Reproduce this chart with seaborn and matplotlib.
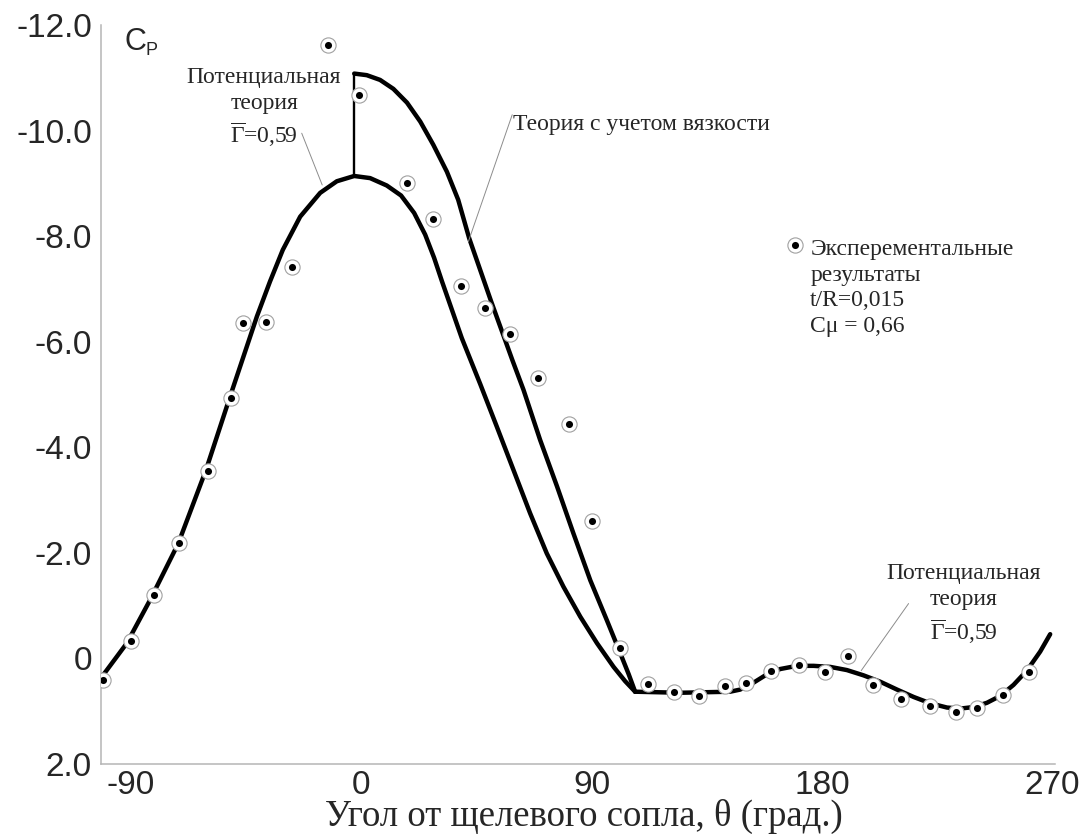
"""
    Pressure distribution Cp(theta) around a circulation-controlled cylinder:
    experiment vs. potential theory and theory with viscosity.
"""
import matplotlib
matplotlib.use("Agg")
import matplotlib.pyplot as plt
import seaborn as sns

# experimental points: angle from slot nozzle (deg) and Cp
exp_theta = [-101, -90, -81, -71, -60, -51, -46, -37, -27, -13, -1, 18, 28, 39, 48.5, 58,
             69, 81, 90, 101, 112, 122, 132, 142, 150.5, 160, 171, 181, 190, 200, 211, 222,
             232.5, 240.5, 250.5, 261]
exp_cp = [0.41, -0.33, -1.20, -2.19, -3.56, -4.94, -6.35, -6.38, -7.42, -11.63, -10.67, -9.00,
          -8.32, -7.05, -6.64, -6.15, -5.31, -4.44, -2.61, -0.20, 0.48, 0.64, 0.71, 0.53,
          0.46, 0.24, 0.12, 0.26, -0.05, 0.50, 0.77, 0.90, 1.02, 0.93, 0.69, 0.25]

# potential theory (Gamma = 0.59), up to the junction point
pot_theta = [-101.3, -91.5, -82.4, -71.4, -60.6, -51.2, -40.7, -35.6, -30.6, -23.8, -16.0,
             -9.5, -2.7, 3.5, 10.0, 15.6, 20.7, 25.0, 28.5, 31.6, 35.2, 39.3, 46.5, 53.0,
             59.5, 66.0, 72.5, 79.0, 85.6, 92.1, 98.6, 103.1, 107.0]
pot_cp = [0.35, -0.29, -1.11, -2.18, -3.57, -4.96, -6.48, -7.14, -7.74, -8.37, -8.82,
          -9.04, -9.14, -9.10, -8.96, -8.77, -8.44, -8.03, -7.59, -7.14, -6.64, -6.07, -5.20,
          -4.39, -3.57, -2.75, -1.99, -1.36, -0.79, -0.29, 0.16, 0.43, 0.63]

# theory with viscosity, from the jump at the peak down to the junction point
visc_theta = [-2.7, 2.2, 7.4, 12.6, 17.9, 23.1, 28.2, 33.5, 37.9, 42.2, 46.5, 50.8, 55.5,
              59.0, 63.4, 69.9, 76.5, 82.9, 89.5, 96.0, 101.2, 104.5, 107.0]
visc_cp = [-11.08, -11.05, -10.96, -10.79, -10.53, -10.17, -9.73, -9.22, -8.69, -7.96, -7.36,
           -6.76, -6.13, -5.66, -5.09, -4.14, -3.26, -2.37, -1.48, -0.72, -0.10, 0.30, 0.63]

# common part after the junction
tail_theta = [107.0, 124.6, 144.1, 148.0, 153.2, 158.5, 163.7, 170.2, 176.7, 183.2, 189.7,
              196.2, 202.7, 209.3, 215.8, 222.3, 228.8, 234.0, 239.2, 244.4, 249.6, 254.8,
              260.0, 265.2, 269.1]
tail_cp = [0.63, 0.65, 0.63, 0.59, 0.46, 0.30, 0.20, 0.14, 0.14, 0.16, 0.22, 0.32, 0.44,
           0.59, 0.73, 0.85, 0.93, 0.95, 0.92, 0.84, 0.71, 0.50, 0.23, -0.13, -0.46]

# vertical jump between the two theories at the peak
jump_theta = [-2.7, -2.7]
jump_cp = [-9.14, -11.08]

# hand-drawn legend entry
legend_theta = [169.5]
legend_cp = [-7.83]

x_ticks = [-90, 0, 90, 180, 270]
x_tick_labels = ["-90", "0", "90", "180", "270"]
y_ticks = [-12, -10, -8, -6, -4, -2, 0, 2]
y_tick_labels = ["-12.0", "-10.0", "-8.0", "-6.0", "-4.0", "-2.0", "0", "2.0"]

sns.set_style("white")
plt.rcParams['font.family'] = ['Liberation Serif', 'DejaVu Serif']
plt.rcParams['mathtext.fontset'] = 'custom'
plt.rcParams['mathtext.rm'] = 'Liberation Serif'

AX_GREY = '#b5b5b5'
LEAD_GREY = '#8c8c8c'
RING_GREY = '#a0a0a0'
fig = plt.figure(figsize=(10.87, 8.34), dpi=100)
ax = fig.add_axes([0.0929, 0.0839, 0.8777, 0.8861])

for xs, ys in [(pot_theta, pot_cp), (visc_theta, visc_cp), (tail_theta, tail_cp)]:
    sns.lineplot(x=xs, y=ys, ax=ax, sort=False, estimator=None,
                 color='black', lw=3.2, solid_joinstyle='round', solid_capstyle='round',
                 zorder=3)
sns.lineplot(x=jump_theta, y=jump_cp, ax=ax, sort=False, estimator=None,
             color='black', lw=1.7, zorder=3)

# experiment markers: grey ring with a black dot inside
for xs, ys in [(exp_theta, exp_cp), (legend_theta, legend_cp)]:
    sns.scatterplot(x=xs, y=ys, ax=ax, s=120, marker='o',
                    facecolor='white', edgecolor=RING_GREY, linewidth=0.8, zorder=4)
    sns.scatterplot(x=xs, y=ys, ax=ax, s=26, marker='o',
                    color='black', linewidth=0, zorder=5)

ax.text(175.4, -6.19, "Эксперементальные\nрезультаты\nt/R=0,015\nCμ = 0,66",
        fontsize=17, va='baseline', ha='left', linespacing=1.28)

# annotations with thin leader lines
pot_label = "Потенциальная\nтеория\n" + r"$\overline{\mathrm{Γ}}$=0,59"
ax.text(-37.9, -9.76, pot_label, fontsize=17, va='baseline', ha='center',
        multialignment='center', linespacing=1.3)
ax.annotate("", xy=(-15.2, -8.97), xytext=(-23.2, -9.95),
            arrowprops=dict(arrowstyle='-', color=LEAD_GREY, lw=0.7, shrinkA=0, shrinkB=0))

ax.text(59.4, -10.02, "Теория с учетом вязкости", fontsize=17, va='baseline', ha='left')
ax.annotate("", xy=(41.9, -7.90), xytext=(59.0, -10.30),
            arrowprops=dict(arrowstyle='-', color=LEAD_GREY, lw=0.7, shrinkA=0, shrinkB=0))

ax.text(235.2, -0.35, pot_label, fontsize=17, va='baseline', ha='center',
        multialignment='center', linespacing=1.3)
ax.annotate("", xy=(195.3, 0.23), xytext=(213.8, -1.04),
            arrowprops=dict(arrowstyle='-', color=LEAD_GREY, lw=0.7, shrinkA=0, shrinkB=0))

# C_P axis title
ax.text(-92.6, -11.53, "C", fontsize=22, family='Liberation Sans', va='baseline', ha='left')
ax.text(-84.2, -11.44, "P", fontsize=13, family='Liberation Sans', va='baseline', ha='left')

# Axis cosmetics
ax.set_xlim(-101.6, 271.0)
ax.set_ylim(2, -12)
ax.set_xticks(x_ticks, labels=x_tick_labels, fontsize=24, family='Liberation Sans')
ax.set_yticks(y_ticks, labels=y_tick_labels, fontsize=24, family='Liberation Sans')
ax.tick_params(axis='both', direction='in', length=11.5, width=0.8, color=AX_GREY)
ax.tick_params(axis='x', pad=4)
ax.tick_params(axis='y', pad=6.5)
ax.set_xlabel("Угол от щелевого сопла, θ (град.)", fontsize=26.5, labelpad=-1)
ax.xaxis.label.set_x(0.506)
ax.set_ylabel("")
for side in ['top', 'right']:
    ax.spines[side].set_visible(False)
for side in ['left', 'bottom']:
    ax.spines[side].set_color(AX_GREY)
    ax.spines[side].set_linewidth(1.1)

plt.savefig("out.png", dpi=100)
plt.close()
